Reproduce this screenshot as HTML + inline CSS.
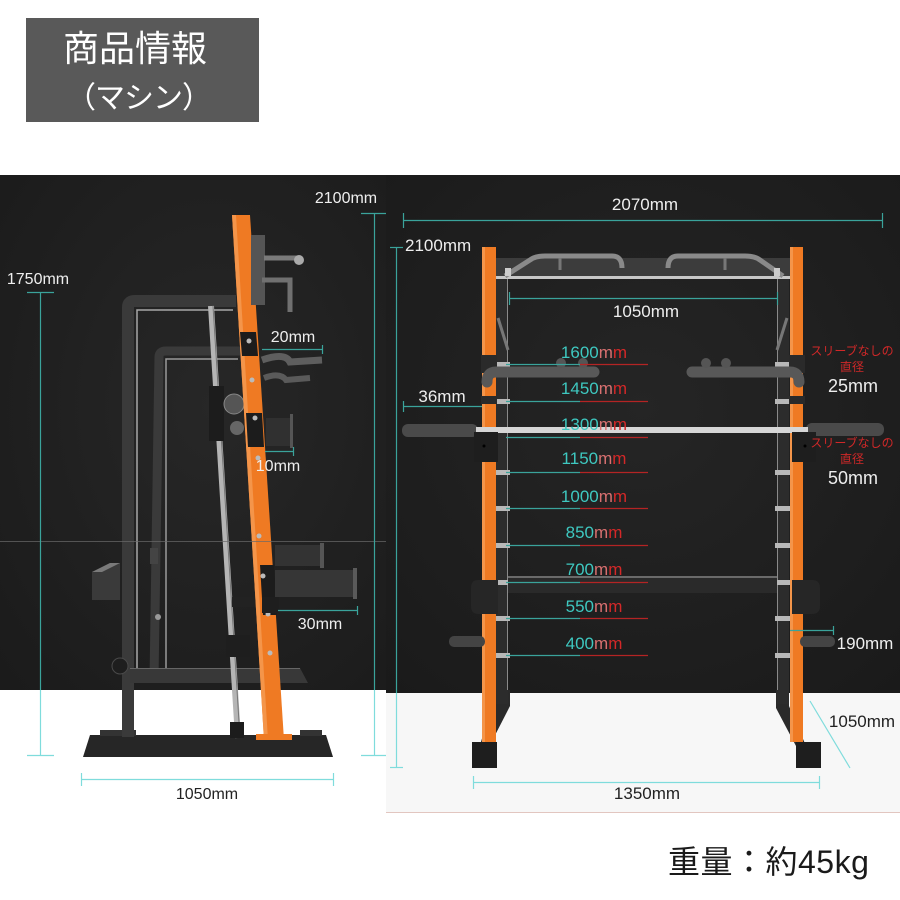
<!DOCTYPE html>
<html><head><meta charset="utf-8"><style>
html,body{margin:0;padding:0;background:#fff;}
svg{display:block}
text{font-family:"Liberation Sans","Noto Sans CJK JP",sans-serif;}
</style></head><body>
<svg width="900" height="900" viewBox="0 0 900 900" xmlns="http://www.w3.org/2000/svg">
<defs>
<radialGradient id="gl" cx="0.55" cy="0.45" r="0.75"><stop offset="0" stop-color="#272727"/><stop offset="1" stop-color="#1b1b1b"/></radialGradient>
<radialGradient id="gr" cx="0.5" cy="0.45" r="0.75"><stop offset="0" stop-color="#252525"/><stop offset="1" stop-color="#1a1a1a"/></radialGradient>
</defs>
<rect width="900" height="900" fill="#fff"/>

<!-- header -->
<rect x="26" y="18" width="233" height="104" fill="#595959"/>
<text x="63" y="61" font-size="36" fill="#fff">商品情報</text>
<text x="66" y="108" font-size="30" fill="#fff" letter-spacing="-1">（マシン）</text>

<!-- photo backgrounds -->
<rect x="0" y="175" width="386" height="515" fill="url(#gl)"/>
<rect x="386" y="175" width="514" height="518" fill="url(#gr)"/>
<rect x="386" y="693" width="514" height="119" fill="#f7f7f7"/>
<line x1="386" y1="812.5" x2="900" y2="812.5" stroke="#e2c6c0" stroke-width="1"/>

<!-- ============ LEFT MACHINE ============ -->
<polygon points="90,735 326,735 333,757 83,757" fill="#262626"/>
<rect x="100" y="730" width="36" height="6" fill="#333"/>
<rect x="300" y="730" width="22" height="6" fill="#333"/>
<path d="M128,737 V307 Q128,301 135,301 H236" stroke="#3a3a3a" stroke-width="12" fill="none"/>
<path d="M137,680 V310 H233" stroke="#a8a8a8" stroke-width="1.5" fill="none"/>
<path d="M154,680 L159,357 Q159,351 166,351 H242" stroke="#3a3a3a" stroke-width="9" fill="none"/>
<path d="M166,670 V359 H238" stroke="#9a9a9a" stroke-width="1.5" fill="none"/>
<polygon points="130,668 300,668 308,683 130,683" fill="#383838"/>
<line x1="130" y1="668.5" x2="300" y2="668.5" stroke="#666" stroke-width="1"/>
<polygon points="92,572 110,563 120,563 120,600 92,600" fill="#3a3a3a"/>
<polygon points="92,572 110,563 120,563 102,572" fill="#7a7a7a"/>
<circle cx="120" cy="666" r="8" fill="#1e1e1e" stroke="#4a4a4a"/>
<rect x="150" y="548" width="8" height="16" fill="#444"/>
<circle cx="158" cy="617" r="3" fill="#999"/>
<line x1="211" y1="306" x2="238" y2="738" stroke="#b5b5b5" stroke-width="6"/>
<line x1="213" y1="306" x2="240" y2="738" stroke="#777" stroke-width="1"/>
<rect x="230" y="722" width="14" height="16" fill="#1c1c1c"/>
<rect x="226" y="635" width="24" height="22" fill="#1e1e1e"/>
<rect x="232" y="597" width="26" height="10" fill="#222"/>
<rect x="209" y="386" width="15" height="55" fill="#1c1c1c"/>
<circle cx="234" cy="404" r="10" fill="#555" stroke="#888"/>
<circle cx="237" cy="428" r="7" fill="#666"/>
<polygon points="232,215 250,215 284,740 264,740" fill="#ef7a23"/>
<polygon points="232,215 236,215 268,740 264,740" fill="#f4954a"/>
<rect x="256" y="734" width="36" height="6" fill="#ef7a23"/>
<polygon points="240,332 256,332 258,356 242,356" fill="#1c1c1c"/>
<polygon points="246,413 262,413 264,447 248,447" fill="#1c1c1c"/>
<polygon points="260,565 274,565 277,615 263,615" fill="#1c1c1c"/>
<circle cx="249" cy="341" r="2.5" fill="#bbb"/>
<circle cx="252" cy="380" r="2.5" fill="#bbb"/>
<circle cx="255" cy="418" r="2.5" fill="#bbb"/>
<circle cx="258" cy="458" r="2.5" fill="#bbb"/>
<circle cx="259" cy="536" r="2.5" fill="#bbb"/>
<circle cx="263" cy="576" r="2.5" fill="#bbb"/>
<circle cx="268" cy="614" r="2.5" fill="#bbb"/>
<circle cx="270" cy="653" r="2.5" fill="#bbb"/>
<rect x="251" y="235" width="14" height="70" fill="#555"/>
<path d="M264,258 H298" stroke="#7a7a7a" stroke-width="5" fill="none"/>
<circle cx="299" cy="260" r="5" fill="#aaa"/>
<path d="M262,280 H290 V312" stroke="#707070" stroke-width="5" fill="none"/>
<path d="M262,360 Q285,352 290,362 L322,360" stroke="#5e5e5e" stroke-width="7" fill="none"/>
<path d="M264,378 Q280,372 286,380 L310,378" stroke="#5a5a5a" stroke-width="6" fill="none"/>
<rect x="266" y="418" width="26" height="28" fill="#303030"/>
<rect x="290" y="414" width="3" height="34" fill="#555"/>
<rect x="275" y="545" width="48" height="21" fill="#333"/>
<rect x="320" y="543" width="4" height="25" fill="#555"/>
<rect x="275" y="570" width="80" height="27" fill="#363636"/>
<rect x="353" y="568" width="4" height="31" fill="#5a5a5a"/>
<rect x="262" y="597" width="17" height="16" fill="#1e1e1e"/>
<line x1="0" y1="541.5" x2="386" y2="541.5" stroke="#6a6a6a" stroke-width="1" opacity="0.7"/>

<!-- LEFT dimensions -->
<line x1="374.5" y1="213" x2="374.5" y2="690" stroke="#3aa39b" stroke-width="1.2"/>
<line x1="374.5" y1="690" x2="374.5" y2="755" stroke="#7fdcdc" stroke-width="1.2"/>
<line x1="361" y1="213.5" x2="386" y2="213.5" stroke="#3aa39b" stroke-width="1.2"/>
<line x1="361" y1="755.5" x2="386" y2="755.5" stroke="#7fdcdc" stroke-width="1.2"/>
<text x="346" y="203" font-size="16" fill="#eee" text-anchor="middle">2100mm</text>

<line x1="40.5" y1="292" x2="40.5" y2="690" stroke="#3aa39b" stroke-width="1.2"/>
<line x1="40.5" y1="690" x2="40.5" y2="755" stroke="#7fdcdc" stroke-width="1.2"/>
<line x1="27" y1="292.5" x2="54" y2="292.5" stroke="#3aa39b" stroke-width="1.2"/>
<line x1="27" y1="755.5" x2="54" y2="755.5" stroke="#7fdcdc" stroke-width="1.2"/>
<text x="38" y="284" font-size="16" fill="#eee" text-anchor="middle">1750mm</text>

<line x1="262" y1="349.5" x2="322" y2="349.5" stroke="#3aa39b" stroke-width="1.2"/>
<line x1="322.5" y1="345" x2="322.5" y2="354" stroke="#3aa39b" stroke-width="1.2"/>
<text x="293" y="342" font-size="16" fill="#eee" text-anchor="middle">20mm</text>

<line x1="265" y1="451.5" x2="293" y2="451.5" stroke="#3aa39b" stroke-width="1.2"/>
<line x1="293.5" y1="447" x2="293.5" y2="456" stroke="#3aa39b" stroke-width="1.2"/>
<text x="278" y="471" font-size="16" fill="#eee" text-anchor="middle">10mm</text>

<line x1="278" y1="610.5" x2="357" y2="610.5" stroke="#3aa39b" stroke-width="1.2"/>
<line x1="357.5" y1="606" x2="357.5" y2="615" stroke="#3aa39b" stroke-width="1.2"/>
<text x="320" y="629" font-size="16" fill="#eee" text-anchor="middle">30mm</text>

<line x1="81" y1="779.5" x2="333" y2="779.5" stroke="#7fdcdc" stroke-width="1.2"/>
<line x1="81.5" y1="773" x2="81.5" y2="786" stroke="#7fdcdc" stroke-width="1.2"/>
<line x1="333.5" y1="773" x2="333.5" y2="786" stroke="#7fdcdc" stroke-width="1.2"/>
<text x="207" y="799" font-size="16" fill="#222" text-anchor="middle">1050mm</text>

<!-- ============ RIGHT MACHINE ============ -->
<polygon points="497,690 510,690 510,706 490,745 480,745" fill="#2a2a2a"/>
<polygon points="776,690 789,690 789,706 806,746 796,746 776,708" fill="#2a2a2a"/>
<rect x="472" y="742" width="25" height="26" fill="#1e1e1e"/>
<rect x="796" y="742" width="25" height="26" fill="#1e1e1e"/>
<rect x="496" y="279" width="12" height="425" fill="#2c2c2c"/>
<rect x="777" y="279" width="12" height="425" fill="#2c2c2c"/>
<line x1="507.5" y1="279" x2="507.5" y2="690" stroke="#8a8a8a" stroke-width="1"/>
<line x1="777.5" y1="279" x2="777.5" y2="690" stroke="#8a8a8a" stroke-width="1"/>
<line x1="498" y1="318" x2="508" y2="350" stroke="#777" stroke-width="3"/>
<line x1="787" y1="318" x2="777" y2="350" stroke="#777" stroke-width="3"/>
<g fill="#b8b8b8">
<rect x="492" y="362" width="18" height="5"/><rect x="492" y="399" width="18" height="5"/>
<rect x="492" y="470" width="18" height="5"/><rect x="492" y="506" width="18" height="5"/>
<rect x="492" y="543" width="18" height="5"/><rect x="492" y="580" width="18" height="5"/>
<rect x="492" y="616" width="18" height="5"/><rect x="492" y="653" width="18" height="5"/>
<rect x="775" y="362" width="18" height="5"/><rect x="775" y="399" width="18" height="5"/>
<rect x="775" y="470" width="18" height="5"/><rect x="775" y="506" width="18" height="5"/>
<rect x="775" y="543" width="18" height="5"/><rect x="775" y="580" width="18" height="5"/>
<rect x="775" y="616" width="18" height="5"/><rect x="775" y="653" width="18" height="5"/>
</g>
<rect x="482" y="247" width="14" height="495" fill="#ef7a23"/>
<rect x="790" y="247" width="13" height="495" fill="#ef7a23"/>
<rect x="482" y="247" width="3" height="495" fill="#f4954a"/>
<rect x="790" y="247" width="3" height="495" fill="#f4954a"/>
<rect x="481" y="355" width="16" height="18" fill="#2a2a2a"/>
<rect x="789" y="355" width="16" height="18" fill="#2a2a2a"/>
<rect x="481" y="396" width="16" height="8" fill="#2a2a2a"/>
<rect x="789" y="396" width="16" height="8" fill="#2a2a2a"/>
<rect x="496" y="258" width="294" height="19" fill="#3c3c3c"/>
<rect x="496" y="276" width="294" height="3" fill="#c8c8c8"/>
<path d="M505,276 L530,260 Q535,256 545,256 L612,256 Q622,256 622,268" stroke="#8a8a8a" stroke-width="5" fill="none"/>
<path d="M668,268 Q668,256 678,256 L745,256 Q755,256 760,260 L783,276" stroke="#8a8a8a" stroke-width="5" fill="none"/>
<rect x="505" y="268" width="6" height="8" fill="#ccc"/>
<rect x="774" y="268" width="6" height="8" fill="#ccc"/>
<line x1="560" y1="258" x2="560" y2="270" stroke="#777" stroke-width="3"/>
<line x1="725" y1="258" x2="725" y2="270" stroke="#777" stroke-width="3"/>
<path d="M594,372 H496 Q487,372 487,382" stroke="#585858" stroke-width="11" stroke-linecap="round" fill="none"/>
<path d="M692,372 H790 Q799,372 799,382" stroke="#585858" stroke-width="11" stroke-linecap="round" fill="none"/>
<circle cx="561" cy="363" r="5" fill="#555"/><circle cx="583" cy="363" r="5" fill="#555"/>
<circle cx="706" cy="363" r="5" fill="#555"/><circle cx="726" cy="363" r="5" fill="#555"/>
<rect x="402" y="424" width="76" height="13" rx="6" fill="#4a4a4a"/>
<rect x="806" y="423" width="78" height="13" rx="6" fill="#4a4a4a"/>
<rect x="476" y="427" width="332" height="6" fill="#d6d6d6"/>
<rect x="474" y="432" width="24" height="30" fill="#1e1e1e"/>
<rect x="792" y="432" width="24" height="30" fill="#1e1e1e"/>
<circle cx="484" cy="446" r="1.5" fill="#000"/>
<circle cx="805" cy="446" r="1.5" fill="#000"/>
<rect x="508" y="576" width="269" height="17" fill="#2a2a2a"/>
<rect x="508" y="576" width="269" height="2" fill="#6a6a6a"/>
<path d="M498,580 H478 Q471,580 471,588 V606 Q471,614 478,614 H498 Z" fill="#262626"/>
<path d="M792,580 H812 Q820,580 820,588 V606 Q820,614 812,614 H792 Z" fill="#262626"/>
<rect x="449" y="636" width="36" height="11" rx="5" fill="#444"/>
<rect x="800" y="636" width="35" height="11" rx="5" fill="#444"/>

<!-- RIGHT dimensions -->
<line x1="403" y1="220.5" x2="883" y2="220.5" stroke="#3aa39b" stroke-width="1.2"/>
<line x1="403.5" y1="213" x2="403.5" y2="228" stroke="#3aa39b" stroke-width="1.2"/>
<line x1="882.5" y1="213" x2="882.5" y2="228" stroke="#3aa39b" stroke-width="1.2"/>
<text x="645" y="210" font-size="17" fill="#eee" text-anchor="middle">2070mm</text>

<line x1="396.5" y1="247" x2="396.5" y2="693" stroke="#3aa39b" stroke-width="1.2"/>
<line x1="396.5" y1="693" x2="396.5" y2="767" stroke="#7fdcdc" stroke-width="1.2"/>
<line x1="390" y1="247.5" x2="403" y2="247.5" stroke="#3aa39b" stroke-width="1.2"/>
<line x1="390" y1="767.5" x2="403" y2="767.5" stroke="#7fdcdc" stroke-width="1.2"/>
<text x="405" y="251" font-size="17" fill="#eee">2100mm</text>

<line x1="509" y1="298.5" x2="777" y2="298.5" stroke="#3aa39b" stroke-width="1.2"/>
<line x1="509.5" y1="292" x2="509.5" y2="305" stroke="#3aa39b" stroke-width="1.2"/>
<line x1="777.5" y1="292" x2="777.5" y2="305" stroke="#3aa39b" stroke-width="1.2"/>
<text x="646" y="317" font-size="17" fill="#eee" text-anchor="middle">1050mm</text>

<line x1="403" y1="406.5" x2="482" y2="406.5" stroke="#3aa39b" stroke-width="1.2"/>
<line x1="403.5" y1="401" x2="403.5" y2="412" stroke="#3aa39b" stroke-width="1.2"/>
<text x="442" y="402" font-size="17" fill="#eee" text-anchor="middle">36mm</text>

<g stroke-width="1.2">
<line x1="506" y1="364.5" x2="580" y2="364.5" stroke="#3aa39b"/><line x1="580" y1="364.5" x2="648" y2="364.5" stroke="#b42424"/>
<line x1="506" y1="401.5" x2="580" y2="401.5" stroke="#3aa39b"/><line x1="580" y1="401.5" x2="648" y2="401.5" stroke="#b42424"/>
<line x1="506" y1="437.5" x2="580" y2="437.5" stroke="#3aa39b"/><line x1="580" y1="437.5" x2="648" y2="437.5" stroke="#b42424"/>
<line x1="506" y1="472.5" x2="580" y2="472.5" stroke="#3aa39b"/><line x1="580" y1="472.5" x2="648" y2="472.5" stroke="#b42424"/>
<line x1="506" y1="508.5" x2="580" y2="508.5" stroke="#3aa39b"/><line x1="580" y1="508.5" x2="648" y2="508.5" stroke="#b42424"/>
<line x1="506" y1="545.5" x2="580" y2="545.5" stroke="#3aa39b"/><line x1="580" y1="545.5" x2="648" y2="545.5" stroke="#b42424"/>
<line x1="506" y1="582.5" x2="580" y2="582.5" stroke="#3aa39b"/><line x1="580" y1="582.5" x2="648" y2="582.5" stroke="#b42424"/>
<line x1="506" y1="618.5" x2="580" y2="618.5" stroke="#3aa39b"/><line x1="580" y1="618.5" x2="648" y2="618.5" stroke="#b42424"/>
<line x1="506" y1="655.5" x2="580" y2="655.5" stroke="#3aa39b"/><line x1="580" y1="655.5" x2="648" y2="655.5" stroke="#b42424"/>
</g>
<g font-size="17" text-anchor="middle">
<text x="594" y="358"><tspan fill="#3ec8c0">1600</tspan><tspan fill="#d87070">m</tspan><tspan fill="#d42828">m</tspan></text>
<text x="594" y="394"><tspan fill="#3ec8c0">1450</tspan><tspan fill="#d87070">m</tspan><tspan fill="#d42828">m</tspan></text>
<text x="594" y="430"><tspan fill="#3ec8c0">1300</tspan><tspan fill="#d87070">m</tspan><tspan fill="#d42828">m</tspan></text>
<text x="594" y="464"><tspan fill="#3ec8c0">1150</tspan><tspan fill="#d87070">m</tspan><tspan fill="#d42828">m</tspan></text>
<text x="594" y="502"><tspan fill="#3ec8c0">1000</tspan><tspan fill="#d87070">m</tspan><tspan fill="#d42828">m</tspan></text>
<text x="594" y="538"><tspan fill="#3ec8c0">850</tspan><tspan fill="#d87070">m</tspan><tspan fill="#d42828">m</tspan></text>
<text x="594" y="575"><tspan fill="#3ec8c0">700</tspan><tspan fill="#d87070">m</tspan><tspan fill="#d42828">m</tspan></text>
<text x="594" y="612"><tspan fill="#3ec8c0">550</tspan><tspan fill="#d87070">m</tspan><tspan fill="#d42828">m</tspan></text>
<text x="594" y="649"><tspan fill="#3ec8c0">400</tspan><tspan fill="#d87070">m</tspan><tspan fill="#d42828">m</tspan></text>
</g>

<g font-size="12" fill="#d02828" text-anchor="middle">
<text x="852" y="355">スリーブなしの</text>
<text x="852" y="371">直径</text>
<text x="852" y="447">スリーブなしの</text>
<text x="852" y="463">直径</text>
</g>
<text x="853" y="392" font-size="18" fill="#eee" text-anchor="middle">25mm</text>
<text x="853" y="484" font-size="18" fill="#eee" text-anchor="middle">50mm</text>

<line x1="790" y1="630.5" x2="833" y2="630.5" stroke="#3aa39b" stroke-width="1.2"/>
<line x1="833.5" y1="626" x2="833.5" y2="635" stroke="#3aa39b" stroke-width="1.2"/>
<text x="865" y="649" font-size="17" fill="#eee" text-anchor="middle">190mm</text>

<line x1="810" y1="701" x2="850" y2="768" stroke="#7fdcdc" stroke-width="1.2"/>
<text x="862" y="727" font-size="17" fill="#222" text-anchor="middle">1050mm</text>

<line x1="473" y1="782.5" x2="820" y2="782.5" stroke="#7fdcdc" stroke-width="1.2"/>
<line x1="473.5" y1="776" x2="473.5" y2="789" stroke="#7fdcdc" stroke-width="1.2"/>
<line x1="819.5" y1="776" x2="819.5" y2="789" stroke="#7fdcdc" stroke-width="1.2"/>
<text x="647" y="799" font-size="17" fill="#222" text-anchor="middle">1350mm</text>

<text x="668" y="873" font-size="32" fill="#1a1a1a" letter-spacing="0.5">重量：約45kg</text>
</svg>
</body></html>
